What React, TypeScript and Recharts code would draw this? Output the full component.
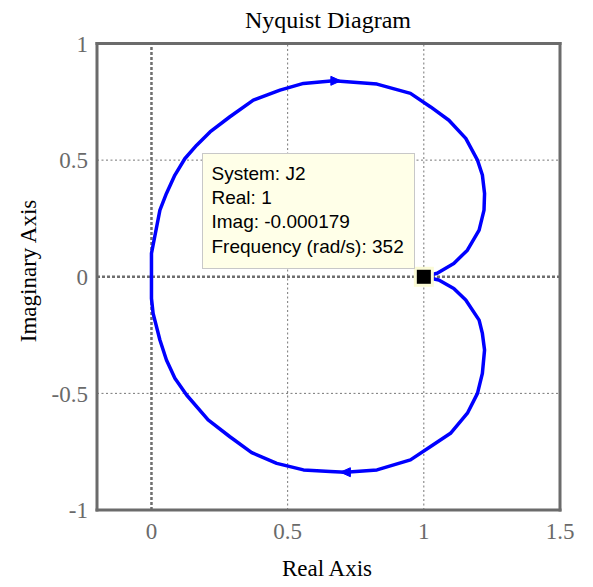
import { ScatterChart, Scatter, XAxis, YAxis, ReferenceLine } from 'recharts'

// Nyquist diagram of J2, loop

const xTicks = [0, 0.5, 1, 1.5]
const yTicks = [-1, -0.5, 0, 0.5, 1]
const xGrid = [0.5, 1]
const yGrid = [-0.5, 0.5]

// lower branch: from (1, 0) round the bottom to the origin
const lowerRe = [1.0, 1.055, 1.11, 1.154, 1.203, 1.215, 1.223, 1.215, 1.197, 1.16, 1.098, 1.025, 0.951, 0.828, 0.712, 0.656, 0.558, 0.46, 0.368, 0.288, 0.208, 0.129, 0.086, 0.055, 0.031, 0.006, 0]
const lowerIm = [0, -0.014, -0.05, -0.1, -0.186, -0.243, -0.314, -0.414, -0.5, -0.585, -0.671, -0.728, -0.785, -0.828, -0.838, -0.835, -0.828, -0.8, -0.754, -0.686, -0.614, -0.507, -0.435, -0.357, -0.271, -0.157, -0.093]

// upper branch: from the origin round the top back to (1, 0)
const upperRe = [0, 0, 0.006, 0.031, 0.055, 0.086, 0.123, 0.166, 0.215, 0.288, 0.374, 0.472, 0.558, 0.669, 0.73, 0.828, 0.951, 1.025, 1.092, 1.154, 1.197, 1.215, 1.223, 1.221, 1.203, 1.16, 1.11, 1.049, 1.0]
const upperIm = [0, 0.1, 0.136, 0.286, 0.357, 0.436, 0.507, 0.564, 0.621, 0.686, 0.757, 0.8, 0.829, 0.84, 0.835, 0.826, 0.786, 0.728, 0.671, 0.593, 0.5, 0.436, 0.357, 0.286, 0.2, 0.114, 0.057, 0.015, 0]

const arrowRe = [0.677, 0.712]
const arrowIm = [0.84, -0.838]
const arrowDir = [1, -1]

const markerRe = [1]
const markerIm = [-0.000179]

const tipLines = ['System: J2', 'Real: 1', 'Imag: -0.000179', 'Frequency (rad/s): 352']

const loop = [
  ...lowerRe.map((x, i) => ({ x, y: lowerIm[i] })),
  ...upperRe.map((x, i) => ({ x, y: upperIm[i] })),
]
const arrows = arrowRe.map((x, i) => ({ x, y: arrowIm[i], dir: arrowDir[i] }))
const marker = markerRe.map((x, i) => ({ x, y: markerIm[i] }))

const serif = '"Liberation Serif", "Times New Roman", serif'
const sans = '"Liberation Sans", Arial, sans-serif'
const frame = '#6b6b6b'
const tickStyle = { fontSize: 23, fill: '#6a6a6a', fontFamily: serif }

function Arrow(props: any) {
  const { cx, cy, payload } = props
  const d = payload.dir
  const pts = `${cx + 5 * d},${cy} ${cx - 5 * d},${cy - 4.5} ${cx - 5 * d},${cy + 4.5}`
  return <polygon points={pts} fill="#0000ff" stroke="#0000ff" strokeWidth={1} />
}

function Marker(props: any) {
  const { cx, cy } = props
  return (
    <g>
      <rect x={cx - 10} y={cy - 10} width={20} height={20} fill="#fbfbd6" />
      <rect x={cx - 7} y={cy - 7} width={14} height={14} fill="#000" />
    </g>
  )
}

export default function App() {
  return (
    <div style={{ position: 'absolute', left: 0, top: 0, width: 593, height: 587, background: '#fff' }}>
      <ScatterChart width={593} height={587} margin={{ top: 43.5, right: 33, bottom: 47, left: 0 }}>
        <XAxis
          type="number"
          dataKey="x"
          domain={[-0.2, 1.5]}
          ticks={xTicks}
          allowDataOverflow
          axisLine={false}
          tickLine={false}
          tickSize={0}
          tickMargin={13}
          height={30}
          tick={tickStyle}
        />
        <YAxis
          type="number"
          dataKey="y"
          domain={[-1, 1]}
          ticks={yTicks}
          allowDataOverflow
          axisLine={false}
          tickLine={false}
          tickSize={0}
          tickMargin={9}
          width={97}
          tick={tickStyle}
        />
        {xGrid.map((v) => (
          <ReferenceLine key={'gx' + v} x={v} stroke="#777" strokeWidth={1} strokeDasharray="2 2.5" />
        ))}
        {yGrid.map((v) => (
          <ReferenceLine key={'gy' + v} y={v} stroke="#777" strokeWidth={1} strokeDasharray="2 2.5" />
        ))}
        <ReferenceLine x={0} stroke="#6e6e6e" strokeWidth={2.5} strokeDasharray="3 2" />
        <ReferenceLine y={0} stroke="#6e6e6e" strokeWidth={2.5} strokeDasharray="3 2" />
        <Scatter
          data={loop}
          fill="#0000ff"
          line={{ strokeWidth: 3.5, strokeLinejoin: 'round' }}
          shape={() => <g />}
          isAnimationActive={false}
        />
        <Scatter data={arrows} fill="#0000ff" shape={Arrow} isAnimationActive={false} />
        <Scatter data={marker} fill="#000" shape={Marker} isAnimationActive={false} />
        <ReferenceLine x={-0.2} stroke={frame} strokeWidth={3} strokeLinecap="square" />
        <ReferenceLine x={1.5} stroke={frame} strokeWidth={3} strokeLinecap="square" />
        <ReferenceLine y={-1} stroke={frame} strokeWidth={3} strokeLinecap="square" />
        <ReferenceLine y={1} stroke={frame} strokeWidth={3} strokeLinecap="square" />
      </ScatterChart>
      <svg width={593} height={587} style={{ position: 'absolute', left: 0, top: 0, pointerEvents: 'none' }}>
        <text x={328} y={28} textAnchor="middle" fontFamily={serif} fontSize={24} fill="#000">
          Nyquist Diagram
        </text>
        <text x={327} y={576} textAnchor="middle" fontFamily={serif} fontSize={23} fill="#000">
          Real Axis
        </text>
        <text
          x={36}
          y={271}
          textAnchor="middle"
          fontFamily={serif}
          fontSize={23}
          fill="#000"
          transform="rotate(-90 36 271)"
        >
          Imaginary Axis
        </text>
        <rect x={202.5} y={153.5} width={212} height={115} fill="#ffffe8" stroke="#c8c8c8" strokeWidth={1} />
        {tipLines.map((t, i) => (
          <text key={t} x={211.5} y={179.5 + i * 24.4} fontFamily={sans} fontSize={19} fill="#000">
            {t}
          </text>
        ))}
      </svg>
    </div>
  )
}
